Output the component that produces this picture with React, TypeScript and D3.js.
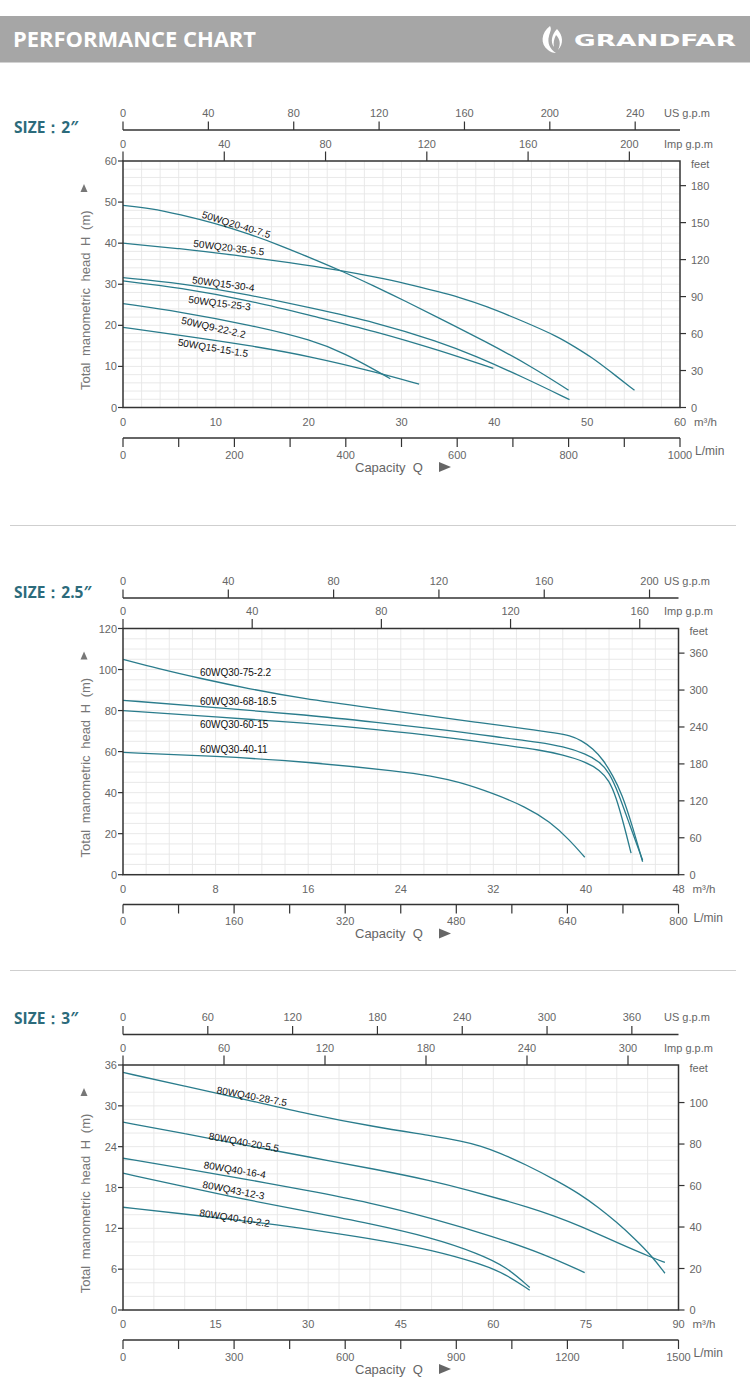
import React from "react";
import * as d3 from "d3";

type Pt = [number, number];

// ================= SIZE 2" =================
const s1Names = ["50WQ20-40-7.5", "50WQ20-35-5.5", "50WQ15-30-4", "50WQ15-25-3", "50WQ9-22-2.2", "50WQ15-15-1.5"];
const s1_20_40_75: Pt[] = [[0, 49.2], [3, 48.5], [6.1, 47], [10, 44.8], [13.5, 42.3], [16.9, 39.5], [20, 36.6], [23.4, 33.4], [27.1, 29.5], [30.5, 25.8], [34.1, 21.7], [39, 16.1], [44, 10], [48, 4.2]];
const s1_20_35_55: Pt[] = [[0, 40], [6.1, 38.7], [12, 37.1], [18, 35.3], [23.4, 33.4], [27.1, 31.8], [30.5, 30.2], [34.1, 28.1], [36.1, 26.9], [39, 24.8], [43.3, 20.8], [46.9, 17.2], [48.7, 14.7], [50.5, 12.2], [52.3, 9.1], [55.1, 4.2]];
const s1_15_30_4: Pt[] = [[0, 31.6], [6.1, 30.3], [13.7, 27.4], [20.5, 24.1], [27.1, 20.8], [34.1, 16.0], [37.9, 12.6], [43, 7.5], [48.1, 1.9]];
const s1_15_25_3: Pt[] = [[0, 30.8], [6.1, 29.2], [13.7, 26], [20.5, 22.2], [27.1, 18.6], [34.1, 13.9], [39.9, 9.5]];
const s1_9_22_22: Pt[] = [[0, 25.3], [6.1, 23.3], [13.7, 20.1], [20.5, 16.4], [24, 13.0], [27.1, 9.2], [28.8, 7.0]];
const s1_15_15_15: Pt[] = [[0, 19.5], [6.1, 17.6], [13.7, 15.1], [20.5, 12.3], [27.1, 8.7], [31.9, 5.7]];
const s1Series = [s1_20_40_75, s1_20_35_55, s1_15_30_4, s1_15_25_3, s1_9_22_22, s1_15_15_15];
// label anchor: [Q, H, angle]
const s1Labels: [number, number, number][] = [[12.2, 44.5, 17], [11.4, 38.9, 7], [10.8, 30.1, 7.5], [10.4, 25.4, 7], [9.75, 19.5, 13], [9.7, 14.5, 9.5]];
const s1QTicks = [0, 10, 20, 30, 40, 50, 60];
const s1HTicks = [0, 10, 20, 30, 40, 50, 60];
const s1FeetTicks = [0, 30, 60, 90, 120, 150, 180];
const s1UsTicks = [0, 40, 80, 120, 160, 200, 240];
const s1ImpTicks = [0, 40, 80, 120, 160, 200];
const s1LminTicks = [0, 100, 200, 300, 400, 500, 600, 700, 800, 900, 1000];
const s1LminLabels = [0, 200, 400, 600, 800, 1000];

// ================= SIZE 2.5" =================
const s2Names = ["60WQ30-75-2.2", "60WQ30-68-18.5", "60WQ30-60-15", "60WQ30-40-11"];
const s2_75_22: Pt[] = [[0, 105], [3, 100.5], [6.65, 95.7], [11, 90.5], [15.3, 86], [21.8, 81], [26, 77.8], [30.4, 74.4], [35, 71], [37.5, 69], [38.6, 67.8], [39.6, 65.5], [40.6, 61.5], [41.5, 56], [42.3, 48.5], [43.1, 39.6], [44, 24], [44.9, 6.3]];
const s2_68_185: Pt[] = [[0, 85], [8, 81.5], [16, 77.8], [21.8, 74.3], [28, 70.5], [33.2, 66.5], [36, 64.5], [38, 62.5], [40, 59], [41.2, 55], [42, 50], [42.8, 40], [43.8, 24], [44.9, 7]];
const s2_60_15: Pt[] = [[0, 80], [8, 77], [16, 73.8], [21.8, 70.8], [28, 67], [33.2, 63], [36, 60.8], [38, 58.5], [40, 55], [41.2, 51], [42, 46], [42.6, 38], [43.3, 24], [43.9, 10.5]];
const s2_40_11: Pt[] = [[0, 59.6], [8, 57.8], [16, 55], [24, 50.3], [26.6, 48.2], [29, 45.3], [32, 39.6], [34.8, 33.1], [36.9, 25.8], [38.6, 16.9], [39.9, 8.5]];
const s2Series = [s2_75_22, s2_68_185, s2_60_15, s2_40_11];
const s2Labels: [number, number, number][] = [[6.65, 98.4, 0], [6.65, 84.3, 0], [6.65, 73.3, 0], [6.65, 61.1, 0]];
const s2QTicks = [0, 8, 16, 24, 32, 40, 48];
const s2HTicks = [0, 20, 40, 60, 80, 100, 120];
const s2FeetTicks = [0, 60, 120, 180, 240, 300, 360];
const s2UsTicks = [0, 40, 80, 120, 160, 200];
const s2ImpTicks = [0, 40, 80, 120, 160];
const s2LminTicks = [0, 80, 160, 240, 320, 400, 480, 560, 640, 720, 800];
const s2LminLabels = [0, 160, 320, 480, 640, 800];

// ================= SIZE 3" =================
const s3Names = ["80WQ40-28-7.5", "80WQ40-20-5.5", "80WQ40-16-4", "80WQ43-12-3", "80WQ40-10-2.2"];
const s3_28_75: Pt[] = [[0, 34.9], [10, 32.9], [20, 30.9], [30, 28.8], [40.8, 26.9], [50, 25.6], [55, 24.8], [58, 24.1], [61, 23.1], [65.2, 21.4], [70.5, 18.9], [73.9, 17.1], [77, 15.1], [80, 12.9], [83, 10.4], [85.7, 7.9], [87.8, 5.4]];
const s3_20_55: Pt[] = [[0, 27.6], [10, 25.9], [20, 24.2], [30, 22.5], [40.8, 20.7], [50, 19.0], [56, 17.6], [61.9, 16.1], [65.3, 15.2], [70, 13.8], [73.9, 12.4], [80.8, 9.6], [85.7, 7.7], [87.8, 7.0]];
const s3_16_4: Pt[] = [[0, 22.3], [10, 20.8], [20, 19.2], [29.6, 17.6], [40, 15.8], [50, 13.5], [60, 10.8], [68, 8.3], [74.8, 5.5]];
const s3_12_3: Pt[] = [[0, 20.1], [12.6, 17.6], [20, 16.2], [30.4, 14.4], [40, 12.7], [49.8, 10.7], [57.6, 8.3], [62.2, 6.3], [65.9, 3.3]];
const s3_10_22: Pt[] = [[0, 15.1], [10, 14.1], [23.4, 12.7], [32, 11.6], [42.1, 10.2], [50, 8.8], [57.6, 6.9], [62, 5.3], [65.9, 2.9]];
const s3Series = [s3_28_75, s3_20_55, s3_16_4, s3_12_3, s3_10_22];
const s3Labels: [number, number, number][] = [[20.9, 31.4, 10.4], [19.6, 24.65, 10.3], [18.1, 20.6, 9.3], [17.9, 17.6, 11], [18.1, 13.5, 9]];
const s3QTicks = [0, 15, 30, 45, 60, 75, 90];
const s3HTicks = [0, 6, 12, 18, 24, 30, 36];
const s3FeetTicks = [0, 20, 40, 60, 80, 100];
const s3UsTicks = [0, 60, 120, 180, 240, 300, 360];
const s3ImpTicks = [0, 60, 120, 180, 240, 300];
const s3LminTicks = [0, 150, 300, 450, 600, 750, 900, 1050, 1200, 1350, 1500];
const s3LminLabels = [0, 300, 600, 900, 1200, 1500];

const FONT = "'Liberation Sans', Arial, sans-serif";
const AXIS = "#666";
const LINE = "#333";
const CURVE = "#2a7c8c";
const GRID = "#e6e6e6";

interface Cfg {
  size: string;
  sizeY: number;
  x0: number; x1: number; yTop: number; yBot: number;
  usLineY: number; lminLineY: number;
  qMax: number; hMax: number; usMax: number; impMax: number; feetMax: number; lminMax: number;
  gridQ: number; gridH: number;
  qTicks: number[]; hTicks: number[]; feetTicks: number[]; usTicks: number[]; impTicks: number[];
  lminTicks: number[]; lminLabels: number[];
  names: string[]; series: Pt[][]; labels: [number, number, number][]; labelAnchor: "middle" | "start";
}

const cfgs: Cfg[] = [
  {
    size: "SIZE：2″", sizeY: 127,
    x0: 123, x1: 680, yTop: 161, yBot: 407.5, usLineY: 130, lminLineY: 438,
    qMax: 60, hMax: 60, usMax: 261, impMax: 220, feetMax: 200, lminMax: 1000, gridQ: 2, gridH: 2,
    qTicks: s1QTicks, hTicks: s1HTicks, feetTicks: s1FeetTicks, usTicks: s1UsTicks, impTicks: s1ImpTicks,
    lminTicks: s1LminTicks, lminLabels: s1LminLabels,
    names: s1Names, series: s1Series, labels: s1Labels, labelAnchor: "middle",
  },
  {
    size: "SIZE：2.5″", sizeY: 591.7,
    x0: 123, x1: 678.5, yTop: 628.5, yBot: 874.7, usLineY: 598, lminLineY: 904.5,
    qMax: 48, hMax: 120, usMax: 211, impMax: 172, feetMax: 400, lminMax: 800, gridQ: 2, gridH: 5,
    qTicks: s2QTicks, hTicks: s2HTicks, feetTicks: s2FeetTicks, usTicks: s2UsTicks, impTicks: s2ImpTicks,
    lminTicks: s2LminTicks, lminLabels: s2LminLabels,
    names: s2Names, series: s2Series, labels: s2Labels, labelAnchor: "start",
  },
  {
    size: "SIZE：3″", sizeY: 1018.3,
    x0: 123, x1: 678.5, yTop: 1065, yBot: 1310, usLineY: 1034.5, lminLineY: 1340,
    qMax: 90, hMax: 36, usMax: 393, impMax: 330, feetMax: 118.1, lminMax: 1500, gridQ: 5, gridH: 2,
    qTicks: s3QTicks, hTicks: s3HTicks, feetTicks: s3FeetTicks, usTicks: s3UsTicks, impTicks: s3ImpTicks,
    lminTicks: s3LminTicks, lminLabels: s3LminLabels,
    names: s3Names, series: s3Series, labels: s3Labels, labelAnchor: "middle",
  },
];

function Chart({ c }: { c: Cfg }) {
  const x = d3.scaleLinear().domain([0, c.qMax]).range([c.x0, c.x1]);
  const y = d3.scaleLinear().domain([0, c.hMax]).range([c.yBot, c.yTop]);
  const yFt = d3.scaleLinear().domain([0, c.feetMax]).range([c.yBot, c.yTop]);
  const xUs = d3.scaleLinear().domain([0, c.usMax]).range([c.x0, c.x1]);
  const xImp = d3.scaleLinear().domain([0, c.impMax]).range([c.x0, c.x1]);
  const xL = d3.scaleLinear().domain([0, c.lminMax]).range([c.x0, c.x1]);
  const line = d3.line<Pt>().x((d) => x(d[0])).y((d) => y(d[1])).curve(d3.curveBasis);
  const gq = d3.range(c.gridQ, c.qMax, c.gridQ);
  const gh = d3.range(c.gridH, c.hMax, c.gridH);
  const midY = (c.yTop + c.yBot) / 2;
  return (
    <g fontFamily={FONT}>
      <text x={14} y={c.sizeY} dominantBaseline="central" fontFamily="'Open Sans', sans-serif" fontWeight={700} fontSize={15.5} fill="#2c6b7b">{c.size}</text>
      {gq.map((v) => <line key={"gq" + v} x1={x(v)} x2={x(v)} y1={c.yTop} y2={c.yBot} stroke={GRID} strokeWidth={0.9} />)}
      {gh.map((v) => <line key={"gh" + v} x1={c.x0} x2={c.x1} y1={y(v)} y2={y(v)} stroke={GRID} strokeWidth={0.9} />)}
      {c.series.map((s, i) => <path key={"c" + i} d={line(s) || ""} fill="none" stroke={CURVE} strokeWidth={1.3} />)}
      {c.labels.map((l, i) => (
        <text key={"l" + i} x={x(l[0])} y={y(l[1])} dominantBaseline="central" textAnchor={c.labelAnchor}
          transform={`rotate(${l[2]},${x(l[0])},${y(l[1])})`} fontSize={10} fill="#111">{c.names[i]}</text>
      ))}
      <rect x={c.x0} y={c.yTop} width={c.x1 - c.x0} height={c.yBot - c.yTop} fill="none" stroke={LINE} strokeWidth={1.5} />
      {c.hTicks.map((v) => (
        <g key={"h" + v}>
          <line x1={c.x0 - 5} x2={c.x0} y1={y(v)} y2={y(v)} stroke={LINE} strokeWidth={1.2} />
          <text x={c.x0 - 6} y={y(v)} textAnchor="end" dominantBaseline="central" fontSize={11} fill={AXIS}>{v}</text>
        </g>
      ))}
      {c.feetTicks.map((v) => (
        <g key={"f" + v}>
          <line x1={c.x1} x2={c.x1 + 6} y1={yFt(v)} y2={yFt(v)} stroke={LINE} strokeWidth={1.2} />
          <text x={c.x1 + 11} y={yFt(v)} dominantBaseline="central" fontSize={11} fill={AXIS}>{v}</text>
        </g>
      ))}
      <text x={c.x1 + 11} y={c.yTop + 2.5} dominantBaseline="central" fontSize={11} fill={AXIS}>feet</text>
      {c.qTicks.map((v) => (
        <text key={"q" + v} x={x(v)} y={c.yBot + 14.3} textAnchor="middle" dominantBaseline="central" fontSize={11} fill={AXIS}>{v}</text>
      ))}
      <text x={c.x1 + 14} y={c.yBot + 14} dominantBaseline="central" fontSize={11.5} fill={AXIS}>m³/h</text>
      <line x1={c.x0} x2={c.x1} y1={c.usLineY} y2={c.usLineY} stroke={LINE} strokeWidth={1.5} />
      {c.usTicks.map((v) => (
        <g key={"u" + v}>
          <line x1={xUs(v)} x2={xUs(v)} y1={c.usLineY - 8.5} y2={c.usLineY} stroke={LINE} strokeWidth={1.2} />
          <text x={xUs(v)} y={c.usLineY - 17.5} textAnchor="middle" dominantBaseline="central" fontSize={11} fill={AXIS}>{v}</text>
        </g>
      ))}
      <text x={664} y={c.usLineY - 17.5} dominantBaseline="central" fontSize={11} fill={AXIS}>US g.p.m</text>
      {c.impTicks.map((v) => (
        <g key={"i" + v}>
          <line x1={xImp(v)} x2={xImp(v)} y1={c.yTop - 9.5} y2={c.yTop} stroke={LINE} strokeWidth={1.2} />
          <text x={xImp(v)} y={c.yTop - 17.5} textAnchor="middle" dominantBaseline="central" fontSize={11} fill={AXIS}>{v}</text>
        </g>
      ))}
      <text x={664} y={c.yTop - 17.5} dominantBaseline="central" fontSize={11} fill={AXIS}>Imp g.p.m</text>
      <line x1={c.x0} x2={c.x1} y1={c.lminLineY} y2={c.lminLineY} stroke={LINE} strokeWidth={1.5} />
      {c.lminTicks.map((v) => (
        <line key={"lt" + v} x1={xL(v)} x2={xL(v)} y1={c.lminLineY} y2={c.lminLineY + 9} stroke={LINE} strokeWidth={1.2} />
      ))}
      {c.lminLabels.map((v) => (
        <text key={"ll" + v} x={xL(v)} y={c.lminLineY + 16.5} textAnchor="middle" dominantBaseline="central" fontSize={11} fill={AXIS}>{v}</text>
      ))}
      <text x={c.x1 + 15} y={c.lminLineY + 13.3} dominantBaseline="central" fontSize={12} fill={AXIS}>L/min</text>
      <text x={355} y={c.lminLineY + 29} dominantBaseline="central" fontSize={13} fill={AXIS} style={{ whiteSpace: "pre" }}>Capacity  Q</text>
      <path d={`M439,${c.lminLineY + 24} L451,${c.lminLineY + 29} L439,${c.lminLineY + 34} Z`} fill={AXIS} />
      <path d={`M80.5,${c.yTop + 31} L84,${c.yTop + 23} L87.5,${c.yTop + 31} Z`} fill="#777" />
      <text transform={`translate(85.5,${midY + 16}) rotate(-90)`} textAnchor="middle" dominantBaseline="central" fontSize={13} fill="#777" wordSpacing={3}>Total manometric head H (m)</text>
    </g>
  );
}

export default function App() {
  return (
    <svg width={750} height={1393} style={{ position: "absolute", left: 0, top: 0, background: "#fff" }}>
      <rect x={0} y={0} width={750} height={1393} fill="#fff" />
      <rect x={0} y={16} width={750} height={46.5} fill="#a6a6a6" />
      <text x={13} y={46.7} fontFamily="'Open Sans', sans-serif" fontWeight={700} fontSize={21} fill="#fff" textLength={243} lengthAdjust="spacingAndGlyphs">PERFORMANCE CHART</text>
      <g transform="translate(553,39)" fill="#fff">
        <path d="M-3,-13 C-12,-6 -13,5 -5,11 C-3,13 0,14 3,14 C-3,10 -6,4 -4,-3 C-3,-7 -1,-10 -3,-13 Z" />
        <path d="M4,-10 C10,-4 11,5 5,11 C8,5 7,0 3,-4 C1,0 0,4 1,8 C-3,3 -1,-5 4,-10 Z" />
      </g>
      <text x={574} y={45.5} fontFamily="'DejaVu Sans', sans-serif" fontWeight={700} fontSize={16} fill="#fff" textLength={162} lengthAdjust="spacingAndGlyphs">GRANDFAR</text>
      <line x1={10} x2={736} y1={525.5} y2={525.5} stroke="#cfcfcf" strokeWidth={1} />
      <line x1={10} x2={736} y1={970.5} y2={970.5} stroke="#cfcfcf" strokeWidth={1} />
      {cfgs.map((c, i) => <Chart key={i} c={c} />)}
    </svg>
  );
}
